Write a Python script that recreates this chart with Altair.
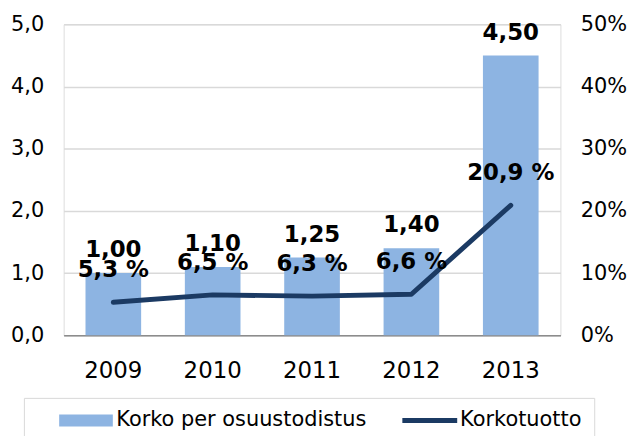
import altair as alt
import pandas as pd

years = ["2009", "2010", "2011", "2012", "2013"]
korko = [1.00, 1.10, 1.25, 1.40, 4.50]
tuotto = [5.3, 6.5, 6.3, 6.6, 20.9]
bar_name = "Korko per osuustodistus"
line_name = "Korkotuotto"
series_names = [bar_name, line_name]
left_ticks = [0, 1, 2, 3, 4, 5]
right_ticks = [0, 10, 20, 30, 40, 50]

BAR = "#8DB4E2"
LINE = "#1B3A63"
FONT = "DejaVu Sans"

df = pd.DataFrame({
    "year": years,
    "korko": korko,
    "tuotto": tuotto,
    "bar_s": [bar_name] * len(years),
    "line_s": [line_name] * len(years),
})
legend_df = pd.DataFrame({"series": series_names})

x = alt.X(
    "year:N", title=None,
    scale=alt.Scale(paddingInner=0.44, paddingOuter=0.22),
    axis=alt.Axis(labelAngle=0, labelFontSize=23, labelPadding=24, ticks=False,
                  domainColor="#8C8C8C", domainWidth=1.5, labelColor="#000000"),
)

color_scale = alt.Scale(domain=series_names, range=[BAR, LINE])
shape_scale = alt.Scale(domain=series_names,
                        range=["M-4.5,-1H4.5V1H-4.5Z", "M-4.6,-0.42H4.6V0.42H-4.6Z"])

legend = alt.Legend(
    orient="none", legendX=-40, legendY=376, direction="horizontal", title=None,
    labelFontSize=21, labelFont=FONT, labelColor="#000000", labelLimit=500,
    strokeColor="#D9D9D9", fillColor="white", padding=12,
    symbolSize=144, symbolOffset=40, labelOffset=20, columnPadding=13,
    symbolStrokeWidth=0, symbolOpacity=1,
)

y_left = alt.Y(
    "korko:Q", title=None, scale=alt.Scale(domain=[0, 5], nice=False),
    axis=alt.Axis(values=left_ticks,
                  labelExpr="replace(format(datum.value, '.1f'), '.', ',')",
                  grid=True, gridColor="#D9D9D9", gridWidth=1.5, domain=False,
                  ticks=False, labelFontSize=21, labelPadding=20, labelColor="#000000"),
)
y_right = alt.Y(
    "tuotto:Q", title=None, scale=alt.Scale(domain=[0, 50], nice=False),
    axis=alt.Axis(orient="right", values=right_ticks, labelExpr="datum.value + '%'",
                  grid=False, domain=False, ticks=False, labelFontSize=21,
                  labelPadding=20, labelColor="#000000"),
)

base = alt.Chart(df).transform_calculate(
    klabel="replace(format(datum.korko, '.2f'), '.', ',')",
    tlabel="replace(format(datum.tuotto, '.1f'), '.', ',') + ' %'",
)

bars = base.mark_bar().encode(
    x=x, y=y_left, color=alt.Color("bar_s:N", scale=color_scale, legend=legend)
)
bar_text = base.mark_text(dy=-23, fontSize=23, fontWeight="bold", font=FONT,
                          color="black").encode(x=x, y=y_left, text="klabel:N")

line = base.mark_line(strokeWidth=5, strokeCap="round", strokeJoin="round").encode(
    x=x, y=y_right, color=alt.Color("line_s:N", scale=color_scale, legend=legend)
)
line_text = base.mark_text(dy=-32, fontSize=23, fontWeight="bold", font=FONT,
                           color="black").encode(x=x, y=y_right, text="tlabel:N")

legend_layer = alt.Chart(legend_df).transform_filter("false").mark_point(filled=True).encode(
    color=alt.Color("series:N", scale=color_scale, legend=legend),
    shape=alt.Shape("series:N", scale=shape_scale, legend=legend),
)

chart = alt.layer(
    alt.layer(bars, bar_text),
    alt.layer(line, line_text),
    legend_layer,
).resolve_scale(y="independent").properties(
    width=500, height=313,
    padding={"left": 2, "top": 4, "right": 0, "bottom": 0},
).configure_view(stroke=None).configure(font=FONT)

chart.save("out.html", embed_options={"renderer": "svg", "actions": False})
